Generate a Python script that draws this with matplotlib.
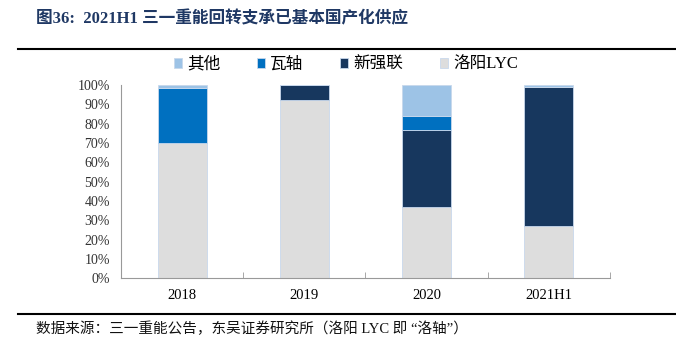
import matplotlib.pyplot as plt
from matplotlib.lines import Line2D
import numpy as np

plt.rcParams['font.family'] = ['Liberation Serif', 'Noto Sans CJK SC']

# data (share of supply, %)
years = ['2018', '2019', '2020', '2021H1']
lyc = [70.0, 92.5, 37.0, 27.0]
xinqianglian = [0.0, 7.5, 40.0, 72.3]
wazhou = [28.5, 0.0, 7.0, 0.0]
others = [1.5, 0.0, 16.0, 0.7]

names = ['洛阳LYC', '新强联', '瓦轴', '其他']
colors = ['#DDDDDD', '#17375E', '#0070C0', '#9DC3E6']
series = [lyc, xinqianglian, wazhou, others]

fig = plt.figure(figsize=(6.76, 3.52), dpi=100)
ax = fig.add_axes([0.179, 0.21, 0.723, 0.548])

x = np.arange(len(years))
bottom = np.zeros(len(years))
handles = {}
for name, col, vals in zip(names, colors, series):
    b = ax.bar(x, vals, 0.4, bottom=bottom, color=col, edgecolor='#C8D8EC',
               linewidth=0.6, label=name)
    handles[name] = b
    bottom += np.array(vals)

ax.set_xlim(-0.5, len(years) - 0.5)
ax.set_ylim(0, 100)
ax.set_yticks(range(0, 101, 10))
ax.set_yticklabels([f'{v}%' for v in range(0, 101, 10)], fontsize=10, color='#333333')
ax.set_xticks(x)
ax.set_xticklabels(years, fontsize=10.5)
ax.tick_params(axis='x', length=0, pad=8)
ax.tick_params(axis='y', length=0, pad=8)
ax.set_xticks(np.arange(-0.5, len(years)), minor=True)
ax.tick_params(axis='x', which='minor', direction='in', length=4, color='#999999')

for s in ['top', 'right']:
    ax.spines[s].set_visible(False)
for s in ['left', 'bottom']:
    ax.spines[s].set_color('#999999')

order = ['其他', '瓦轴', '新强联', '洛阳LYC']
ax.legend([handles[n] for n in order], order, loc='center',
          bbox_to_anchor=(0.46, 1.105), ncol=4, frameon=False, fontsize=12,
          handlelength=0.5, handleheight=0.5, handletextpad=0.3, columnspacing=2.2)

fig.text(0.053, 0.945, '图36:  2021H1 三一重能回转支承已基本国产化供应', fontsize=12,
         fontweight='bold', color='#1F3864', va='center')
fig.add_artist(Line2D([0.027, 1.0], [0.862, 0.862], color='black', lw=1.5))
fig.add_artist(Line2D([0.027, 1.0], [0.108, 0.108], color='black', lw=1.5))
fig.text(0.053, 0.065, '数据来源：三一重能公告，东吴证券研究所（洛阳 LYC 即 “洛轴”）',
         fontsize=10.5, color='#111111', va='center')

fig.savefig('out.png', dpi=100)
